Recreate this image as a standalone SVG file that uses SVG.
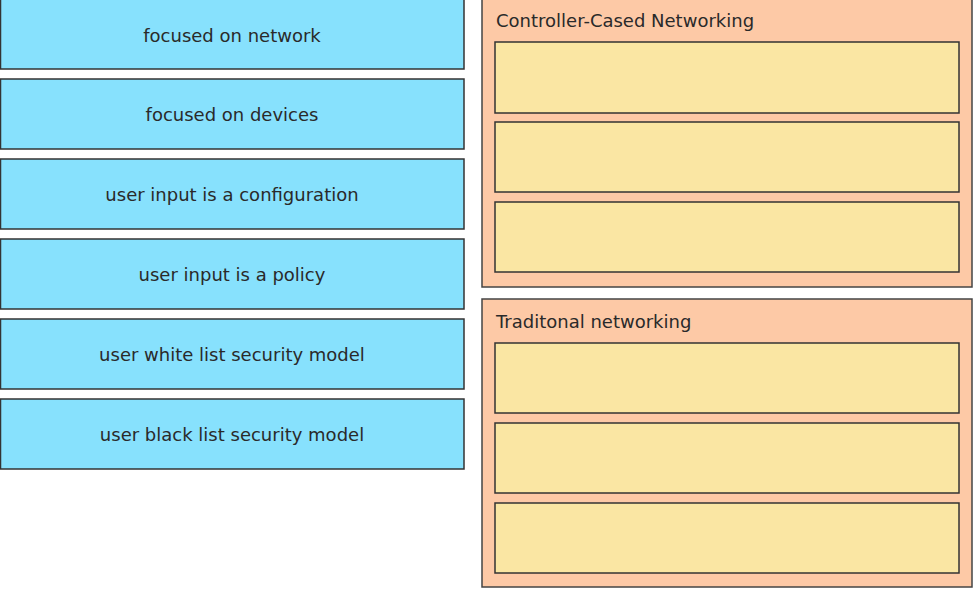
<svg xmlns="http://www.w3.org/2000/svg" width="974" height="589" viewBox="0 0 974 589">
<style>
.item rect{fill:#87e1fd;stroke:#333;stroke-width:1.5}
.item text{font-family:"DejaVu Sans",Verdana,sans-serif;font-size:18px;fill:#2a2a2a;text-anchor:middle}
.frame{fill:#fdc9a6;stroke:#444;stroke-width:1.5}
.panel text{font-family:"DejaVu Sans",Verdana,sans-serif;font-size:18px;fill:#2a2a2a}
.slot{fill:#fae6a3;stroke:#333;stroke-width:1.5}
</style>
<rect width="974" height="589" fill="#fff"/>
<g id="item1" class="item"><rect x="0.5" y="-2" width="463.5" height="71"/><text x="232" y="42">focused on network</text></g>
<g id="item2" class="item"><rect x="0.5" y="79" width="463.5" height="70"/><text x="232" y="121">focused on devices</text></g>
<g id="item3" class="item"><rect x="0.5" y="159" width="463.5" height="70"/><text x="232" y="201">user input is a configuration</text></g>
<g id="item4" class="item"><rect x="0.5" y="239" width="463.5" height="70"/><text x="232" y="281">user input is a policy</text></g>
<g id="item5" class="item"><rect x="0.5" y="319" width="463.5" height="70"/><text x="232" y="361">user white list security model</text></g>
<g id="item6" class="item"><rect x="0.5" y="399" width="463.5" height="70"/><text x="232" y="441">user black list security model</text></g>
<g id="panel1" class="panel">
<rect class="frame" x="482" y="-2" width="490" height="289"/>
<text x="496" y="27">Controller-Cased Networking</text>
<rect class="slot" x="495" y="42" width="464" height="71"/>
<rect class="slot" x="495" y="122" width="464" height="70"/>
<rect class="slot" x="495" y="202" width="464" height="70"/>
</g>
<g id="panel2" class="panel">
<rect class="frame" x="482" y="299" width="490" height="288"/>
<text x="496" y="328">Traditonal networking</text>
<rect class="slot" x="495" y="343" width="464" height="70"/>
<rect class="slot" x="495" y="423" width="464" height="70"/>
<rect class="slot" x="495" y="503" width="464" height="70"/>
</g>
<g id="connectors"></g>
</svg>
